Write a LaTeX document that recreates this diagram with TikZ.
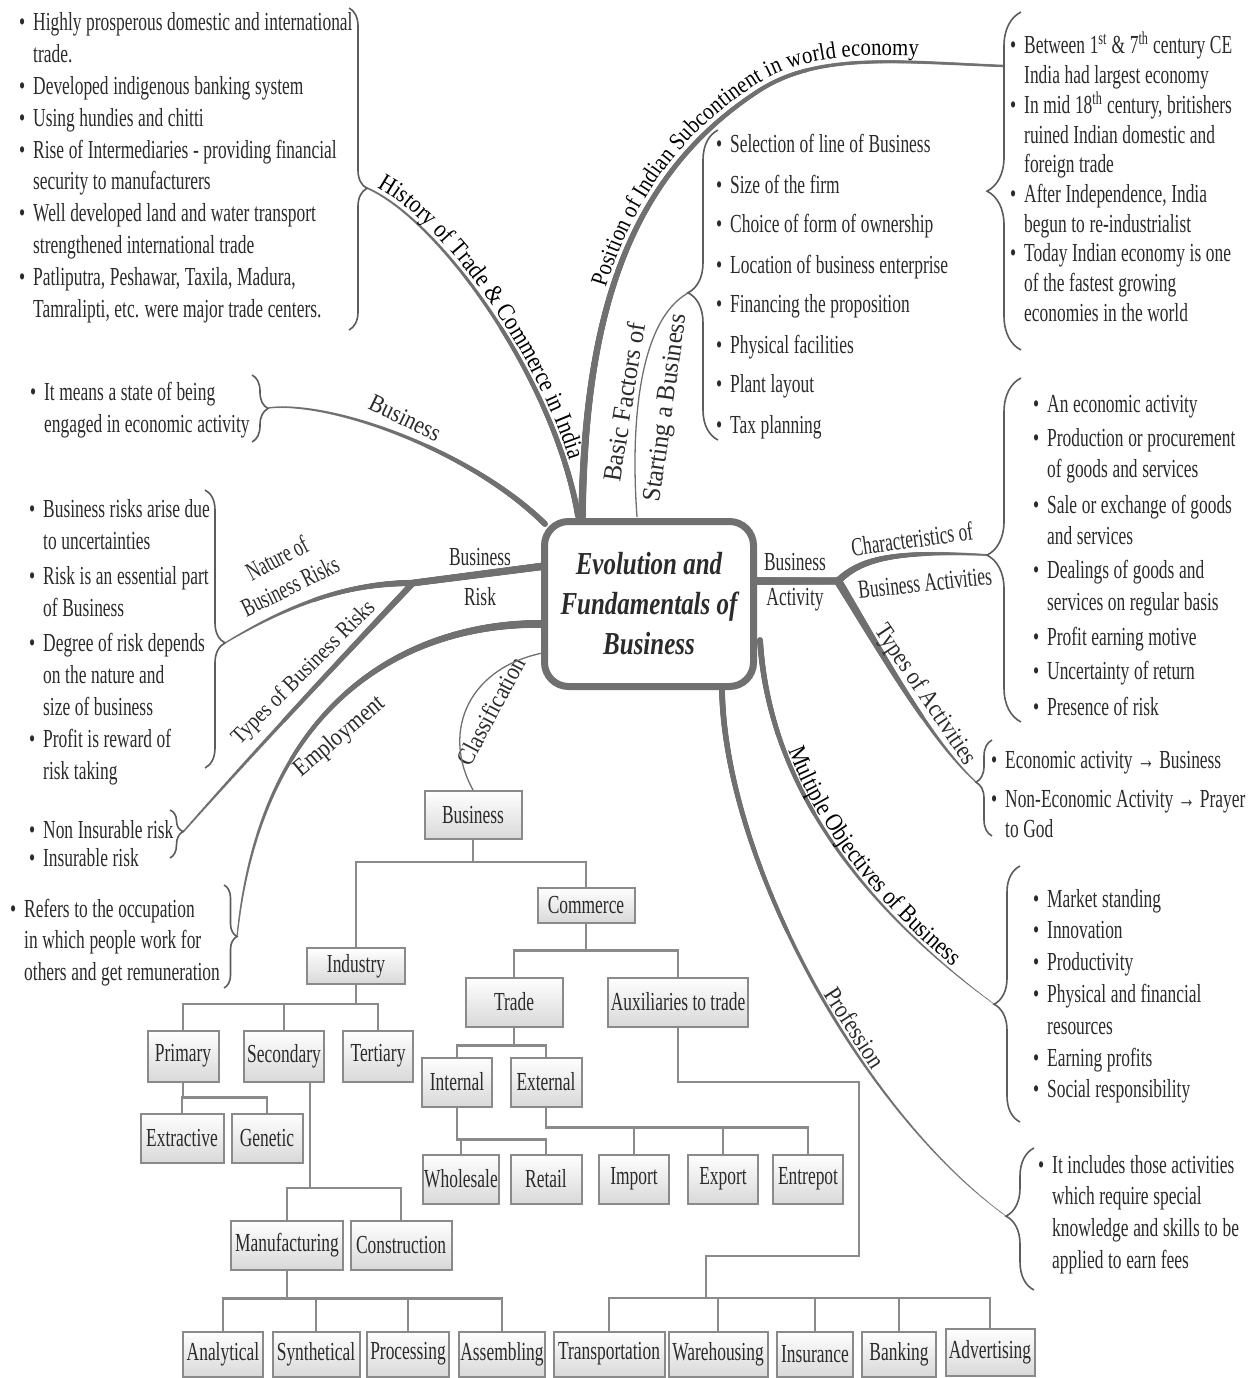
\documentclass[tikz,border=0pt]{standalone}
\usepackage{fontspec}
\setmainfont{Liberation Serif}[FakeStretch=0.67]
\newfontfamily\lblfont{Liberation Serif}[FakeStretch=0.86]
\newfontfamily\widefont{Liberation Serif}[FakeStretch=0.95]
\newfontfamily\titlefont{Liberation Serif}[FakeStretch=0.78]
\usetikzlibrary{decorations.pathreplacing,decorations.markings,decorations.text}

\definecolor{inkc}{HTML}{2B2B2B}
\definecolor{brgray}{HTML}{707070}
\definecolor{brcgray}{HTML}{5C5C5C}
\definecolor{boxgray}{HTML}{8A8A8A}

\newcommand\bl{\leavevmode\llap{\textbullet\hspace{8pt}}}
\newcommand\bodyat[1]{\fontsize{26pt}{#1pt}\selectfont}
% natural word spacing inside the multi-line text blocks
\newcommand\tight{\spaceskip=4.6pt plus 1pt\relax\xspaceskip=5.5pt\relax}

\tikzset{
  % tapering branch: a row of discs whose radius goes from #1 to #2
  taper/.style 2 args={postaction={decorate,decoration={markings,
     mark=between positions 0 and 1 step 0.8pt with {%
       \pgfmathsetmacro\tprad{#1+(#2-#1)*(\pgfkeysvalueof{/pgf/decoration/mark info/distance from start})/(\pgfdecoratedpathlength)}%
       \fill[brgray] (0,0) circle[radius=\tprad pt];}}}},
  brc/.style 2 args={draw=brcgray, line width=1.6pt, decorate,
     decoration={brace, amplitude=#1, aspect=#2}},
  along/.style n args={4}{color=inkc, decorate, decoration={text along path,
     raise=#2, text align={left, left indent=#3},
     text={|\lblfont\fontsize{#4}{#4}\selectfont|#1}}},
  lbl/.style={font=\lblfont\fontsize{25pt}{30pt}\selectfont, text=inkc, inner sep=0pt},
  widelbl/.style={font=\widefont\fontsize{26pt}{30pt}\selectfont, text=inkc, inner sep=0pt},
  plain/.style={font=\bodyat{30}, text=inkc, inner sep=0pt},
  blk/.style={anchor=base west, inner sep=0pt, text width=420pt, align=left, text=inkc},
  core/.style={draw=brgray, line width=7pt, fill=white, rounded corners=24pt,
     minimum width=209pt, minimum height=165pt, align=center, inner sep=0pt, text=inkc,
     font=\titlefont\bfseries\itshape\fontsize{32pt}{40pt}\selectfont},
  tbox/.style={draw=boxgray, line width=2pt, top color=white, bottom color=black!15,
     inner sep=0pt, text=inkc, font=\bodyat{30}},
  tline/.style={draw=boxgray, line width=2.2pt},
}

\begin{document}
\begin{tikzpicture}[x=1pt,y=1pt]
\useasboundingbox (0,0) rectangle (1253,-1378);
\fill[white] (0,0) rectangle (1253,-1378);

% ---------- attachment points on the central box
\coordinate (c-pos)   at (582,-517);
\coordinate (c-hist)  at (578,-516);
\coordinate (c-bus)   at (545,-524);
\coordinate (c-risk)  at (545,-566);
\coordinate (c-emp)   at (543,-624);
\coordinate (c-cls)   at (548,-652);
\coordinate (c-basic) at (637,-517);
\coordinate (c-act)   at (757,-581);
\coordinate (c-obj)   at (760,-640);
\coordinate (c-prof)  at (722,-690);
\coordinate (j-risk)  at (413,-583);
\coordinate (j-act)   at (838,-581);

% ---------- brace tips
\coordinate (t-pos)   at (1004,-66);
\coordinate (t-hist)  at (367,-188);
\coordinate (t-bus)   at (268,-408);
\coordinate (t-nat)   at (225,-643);
\coordinate (t-tbr)   at (183,-832);
\coordinate (t-emp)   at (237,-937);
\coordinate (t-basic) at (688,-293);
\coordinate (t-char)  at (987,-555);
\coordinate (t-tact)  at (976,-782);
\coordinate (t-obj)   at (994,-1004);
\coordinate (t-prof)  at (1006,-1216);

% ---------- branches
\path[taper={3.8}{1.3}] (c-pos) .. controls (585,-330) and (620,-180) .. (760,-90)
      .. controls (820,-52) and (900,-62) .. (t-pos);
\path[taper={3.0}{1.0}] (c-hist) .. controls (555,-380) and (440,-220) .. (t-hist);
\path[taper={3.0}{0.8}] (c-bus) .. controls (470,-450) and (330,-400) .. (t-bus);
\path[taper={3.8}{3.4}] (c-risk) -- (j-risk);
\path[taper={3.2}{0.8}] (j-risk) .. controls (340,-583) and (280,-610) .. (t-nat);
\path[taper={3.2}{1.0}] (j-risk) .. controls (340,-660) and (260,-745) .. (t-tbr);
\path[taper={4.0}{0.7}] (c-emp) .. controls (420,-622) and (262,-690) .. (t-emp);
\draw[brgray, line width=1.3pt] (c-basic) .. controls (630,-420) and (640,-320) .. (t-basic);
\path[taper={3.8}{3.6}] (c-act) -- (j-act);
\path[taper={3.6}{1.0}] (j-act) .. controls (860,-560) and (890,-550) .. (t-char);
\path[taper={4.2}{0.8}] (j-act) .. controls (880,-650) and (930,-740) .. (t-tact);
\path[taper={3.0}{0.5}] (c-obj) .. controls (770,-800) and (880,-920) .. (t-obj);
\path[taper={3.0}{0.5}] (c-prof) .. controls (725,-860) and (860,-1110) .. (t-prof);

% ---------- central box
\node[core] (core) at (649,-604) {Evolution and\\Fundamentals of\\Business};

% ---------- braces
\draw[brc={18pt}{0.56}] (349,-8) -- (349,-330);
\draw[brc={16pt}{0.5}] (252,-375) -- (252,-442);
\draw[brc={20pt}{0.55}] (205,-490) -- (205,-768);
\draw[brc={13pt}{0.45}] (170,-810) -- (170,-858);
\draw[brc={13pt}{0.5}] (224,-885) -- (224,-988);
\draw[brc={34pt}{0.47}] (1021,-350) -- (1021,-12);
\draw[brc={30pt}{0.475}] (718,-440) -- (718,-130);
\draw[brc={34pt}{0.485}] (1021,-722) -- (1021,-378);
\draw[brc={16pt}{0.56}] (992,-836) -- (992,-740);
\draw[brc={26pt}{0.46}] (1020,-1122) -- (1020,-866);
\draw[brc={28pt}{0.52}] (1034,-1290) -- (1034,-1148);

% ---------- branch labels
\path[along={Position of Indian Subcontinent in world economy}{6.5pt}{230pt}{24pt}]
      (c-pos) .. controls (585,-330) and (620,-180) .. (760,-90)
      .. controls (820,-52) and (900,-62) .. (t-pos);
\path[along={History of Trade {\&} Commerce in India}{5pt}{8pt}{25pt}]
      (t-hist) .. controls (440,-220) and (555,-380) .. (c-hist);
\path[along={Multiple Objectives of Business}{4pt}{115pt}{25pt}]
      (c-obj) .. controls (770,-800) and (880,-920) .. (t-obj);

\node[lbl, rotate=-26] (l-bus) at (405,-418) {Business};
\node[plain, rotate=28] (l-nat1) at (277,-558) {Nature of};
\node[plain, rotate=26] (l-nat2) at (290,-586) {Business Risks};
\node[plain] (l-brisk1) at (480,-557) {Business};
\node[plain] (l-brisk2) at (480,-597) {Risk};
\node[lbl, rotate=45, font=\lblfont\fontsize{23pt}{26pt}\selectfont] (l-tbr) at (304,-673) {Types of Business Risks};
\node[lbl, rotate=40] (l-emp) at (340,-737) {Employment};
\node[lbl, rotate=62] (l-cls) at (491,-711) {Classification};
\node[widelbl, rotate=81] (l-basic1) at (624,-402) {Basic Factors of};
\node[widelbl, rotate=82] (l-basic2) at (667,-408) {Starting a Business};
\node[plain] (l-act1) at (795,-562) {Business};
\node[plain] (l-act2) at (795,-600) {Activity};
\node[plain, rotate=8] (l-char1) at (912,-539) {Characteristics of};
\node[plain, rotate=6] (l-char2) at (925,-583) {Business Activities};
\node[lbl, rotate=-56] (l-tact) at (925,-695) {Types of Activities};
\node[lbl, rotate=-57] (l-prof) at (855,-1028) {Profession};

% ---------- text blocks
\node[blk, font=\bodyat{31.8}] (x-hist) at (33,-31) {\tight\bl Highly prosperous domestic and international\\trade.\\\bl Developed indigenous banking system\\\bl Using hundies and chitti\\\bl Rise of Intermediaries - providing financial\\security to manufacturers\\\bl Well developed land and water transport\\strengthened international trade\\\bl Patliputra, Peshawar, Taxila, Madura,\\Tamralipti, etc. were major trade centers.};

\node[blk, font=\bodyat{32}] (x-bus) at (44,-400) {\tight\bl It means a state of being\\engaged in economic activity};

\node[blk, font=\bodyat{32}] (x-nat) at (43,-517) {\tight\bl Business risks arise due\\to uncertainties\\[3.5pt]\bl Risk is an essential part\\of Business\\[3pt]\bl Degree of risk depends\\on the nature and\\size of business\\\bl Profit is reward of\\risk taking};

\node[blk, font=\bodyat{28}] (x-tbr) at (43,-838) {\tight\bl Non Insurable risk\\\bl Insurable risk};

\node[blk, font=\bodyat{31.5}] (x-emp) at (24,-917) {\tight\bl Refers to the occupation\\in which people work for\\others and get remuneration};

\node[blk, font=\bodyat{29.7}] (x-pos) at (1024,-54) {\tight\bl Between 1\textsuperscript{st} \& 7\textsuperscript{th} century CE\\India had largest economy\\\bl In mid 18\textsuperscript{th} century, britishers\\ruined Indian domestic and\\foreign trade\\\bl After Independence, India\\begun to re-industrialist\\\bl Today Indian economy is one\\of the fastest growing\\economies in the world};

\node[blk, font=\bodyat{40}] (x-basic) at (730,-153) {\tight\bl Selection of line of Business\\\bl Size of the firm\\\bl Choice of form of ownership\\\bl Location of business enterprise\\\bl Financing the proposition\\\bl Physical facilities\\\bl Plant layout\\\bl Tax planning};

\node[blk, font=\bodyat{31.5}] (x-char) at (1047,-412) {\tight\bl An economic activity\\[2.5pt]\bl Production or procurement\\of goods and services\\[4pt]\bl Sale or exchange of goods\\and services\\[2.5pt]\bl Dealings of goods and\\services on regular basis\\[3.5pt]\bl Profit earning motive\\[2.5pt]\bl Uncertainty of return\\[5pt]\bl Presence of risk};

\node[blk, font=\bodyat{30}] (x-tact) at (1005,-768) {\tight\bl Economic activity → Business\\[9pt]\bl Non-Economic Activity → Prayer\\to God};

\node[blk, font=\bodyat{31.8}] (x-obj) at (1047,-907) {\tight\bl Market standing\\\bl Innovation\\\bl Productivity\\\bl Physical and financial\\resources\\\bl Earning profits\\\bl Social responsibility};

\node[blk, font=\bodyat{31.7}] (x-prof) at (1052,-1173) {\tight\bl It includes those activities\\which require special\\knowledge and skills to be\\applied to earn fees};

% ---------- classification tree
\node[tbox, minimum width=97pt, minimum height=48pt] (biz) at (473,-815) {Business};
\node[tbox, minimum width=97pt, minimum height=35pt] (com) at (586,-905) {Commerce};
\node[tbox, minimum width=98pt, minimum height=36pt] (ind) at (356,-966) {Industry};
\node[tbox, minimum width=97pt, minimum height=49pt] (trd) at (514,-1002) {Trade};
\node[tbox, minimum width=140pt, minimum height=49pt] (aux) at (678,-1002) {Auxiliaries to trade};
\node[tbox, minimum width=71pt, minimum height=51pt] (pri) at (183,-1056) {Primary};
\node[tbox, minimum width=80pt, minimum height=51pt] (sec) at (284,-1056) {Secondary};
\node[tbox, minimum width=70pt, minimum height=51pt] (ter) at (378,-1056) {Tertiary};
\node[tbox, minimum width=83pt, minimum height=49pt] (ext) at (182,-1138) {Extractive};
\node[tbox, minimum width=71pt, minimum height=49pt] (gen) at (267,-1138) {Genetic};
\node[tbox, minimum width=70pt, minimum height=49pt] (int) at (457,-1082) {Internal};
\node[tbox, minimum width=71pt, minimum height=49pt] (xtl) at (546,-1082) {External};
\node[tbox, minimum width=76pt, minimum height=49pt] (who) at (461,-1179) {Wholesale};
\node[tbox, minimum width=71pt, minimum height=49pt] (ret) at (546,-1179) {Retail};
\node[tbox, minimum width=70pt, minimum height=49pt] (imp) at (634,-1179) {Import};
\node[tbox, minimum width=70pt, minimum height=49pt] (exp) at (723,-1179) {Export};
\node[tbox, minimum width=70pt, minimum height=49pt] (ent) at (808,-1179) {Entrepot};
\node[tbox, minimum width=112pt, minimum height=49pt] (man) at (287,-1245) {Manufacturing};
\node[tbox, minimum width=101pt, minimum height=49pt] (con) at (401,-1245) {Construction};
\node[tbox, minimum width=80pt, minimum height=45pt] (ana) at (223,-1354) {Analytical};
\node[tbox, minimum width=87pt, minimum height=45pt] (syn) at (316,-1354) {Synthetical};
\node[tbox, minimum width=82pt, minimum height=45pt] (pro) at (408,-1354) {Processing};
\node[tbox, minimum width=86pt, minimum height=45pt] (ass) at (502,-1354) {Assembling};
\node[tbox, minimum width=111pt, minimum height=45pt] (tra) at (609,-1354) {Transportation};
\node[tbox, minimum width=99pt, minimum height=45pt] (war) at (718,-1354) {Warehousing};
\node[tbox, minimum width=76pt, minimum height=45pt] (ins) at (815,-1354) {Insurance};
\node[tbox, minimum width=74pt, minimum height=45pt] (ban) at (899,-1354) {Banking};
\node[tbox, minimum width=89pt, minimum height=47pt] (adv) at (990,-1352) {Advertising};

% thin classification link from the central box to the tree root
\draw[brgray, line width=1.3pt] (c-cls) .. controls (470,-665) and (440,-730) .. (biz.north);

% tree connectors
\draw[tline] (biz.south) -- ++(0,-22) coordinate (bj) -| (ind.north);
\draw[tline] (bj) -| (com.north);
\draw[tline] (com.south) -- ++(0,-27) coordinate (cj) -| (trd.north);
\draw[tline] (cj) -| (aux.north);
\draw[tline] (ind.south) -- ++(0,-19) coordinate (ij) -| (pri.north);
\draw[tline] (ij) -| (sec.north);
\draw[tline] (ij) -| (ter.north);
\draw[tline] (pri.south) -- ++(0,-15) coordinate (pj) -| (ext.north);
\draw[tline] (pj) -| (gen.north);
\coordinate (sj) at (310,-1188);
\draw[tline] (sec.south -| sj) -- (sj) -| (man.north);
\draw[tline] (sj) -| (con.north);
\draw[tline] (man.south) -- ++(0,-28) coordinate (mj) -| (ana.north);
\draw[tline] (mj) -| (syn.north);
\draw[tline] (mj) -| (pro.north);
\draw[tline] (mj) -| (ass.north);
\draw[tline] (trd.south) -- ++(0,-18) coordinate (tj) -| (int.north);
\draw[tline] (tj) -| (xtl.north);
\draw[tline] (int.south) -- ++(0,-32) coordinate (nj) -| (who.north);
\draw[tline] (nj) -| (ret.north);
\draw[tline] (xtl.south) -- ++(0,-20) coordinate (xj) -| (imp.north);
\draw[tline] (xj) -| (exp.north);
\draw[tline] (xj) -| (ent.north);
\coordinate (a1) at (859,-1082);
\coordinate (a2) at (859,-1256);
\coordinate (a3) at (706,-1256);
\coordinate (a4) at (706,-1298);
\draw[tline] (aux.south) |- (a1) -- (a2) -- (a3) -- (a4);
\draw[tline] (a4) -| (tra.north);
\draw[tline] (a4) -| (war.north);
\draw[tline] (a4) -| (ins.north);
\draw[tline] (a4) -| (ban.north);
\draw[tline] (a4) -| (adv.north);
\end{tikzpicture}
\end{document}
